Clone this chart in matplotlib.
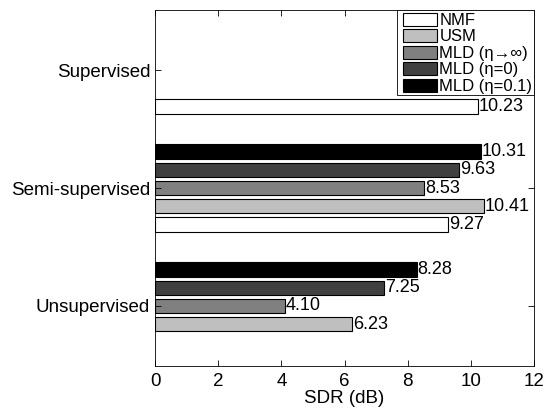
import numpy as np
import matplotlib
matplotlib.use("Agg")
import matplotlib.pyplot as plt
from matplotlib.patches import Rectangle
from matplotlib.container import BarContainer
from matplotlib.legend_handler import HandlerPatch, update_from_first_child

plt.rcParams['font.family'] = ['Liberation Sans', 'DejaVu Sans']

# data: rows = groups (bottom to top), columns = methods
groups = ['Unsupervised', 'Semi-supervised', 'Supervised']
methods = ['NMF', 'USM', 'MLD (η→∞)', 'MLD (η=0)', 'MLD (η=0.1)']
nmf = [np.nan, 9.27, 10.23]
usm = [6.23, 10.41, np.nan]
mld_inf = [4.10, 8.53, np.nan]
mld_0 = [7.25, 9.63, np.nan]
mld_01 = [8.28, 10.31, np.nan]
colors = ['white', '#bfbfbf', '#808080', '#404040', 'black']

series = [nmf, usm, mld_inf, mld_0, mld_01]

fig = plt.figure(figsize=(5.46, 4.09), dpi=100)
ax = fig.add_axes([0.284, 0.105, 0.694, 0.8706])

y = np.arange(1, len(groups) + 1)
step = 0.769 / 5
h = step * 0.8
for k, vals in enumerate(series):
    vals = np.array(vals)
    pos = y + (k - 2) * step
    ok = ~np.isnan(vals)
    ax.barh(pos[ok], vals[ok], height=h, color=colors[k], edgecolor='black',
            linewidth=0.8, label=methods[k])
    for p, v in zip(pos[ok], vals[ok]):
        ax.text(v + 0.03, p, '%.2f' % v, va='center', ha='left', fontsize=13)

ax.set_xlim(0, 12)
ax.set_ylim(0.49, 3.51)
ax.set_xticks(range(0, 13, 2))
ax.set_yticks(y)
ax.set_yticklabels(groups)
ax.tick_params(direction='in', length=4, width=0.6, top=True, right=True, labelsize=13.5)
ax.tick_params(axis='x', pad=5)
ax.set_xlabel('SDR (dB)', fontsize=13.5, labelpad=0)
for s in ax.spines.values():
    s.set_linewidth(0.6)


# small boxes centred in each legend row
def small_box(legend, orig_handle, xdescent, ydescent, width, height, fontsize):
    bh = 9.4
    return Rectangle((-xdescent + 3.0, -ydescent + (height - bh) / 2), width - 3.0, bh)


leg = ax.legend(loc='upper right', fontsize=12, fancybox=False, framealpha=1,
                edgecolor='black', borderaxespad=0, handlelength=2.3, handleheight=1.0,
                labelspacing=0.02, handletextpad=0.12, borderpad=0.1,
                handler_map={BarContainer: HandlerPatch(patch_func=small_box,
                                                        update_func=update_from_first_child)})
leg.get_frame().set_linewidth(0.6)

fig.savefig('out.png', dpi=100)
